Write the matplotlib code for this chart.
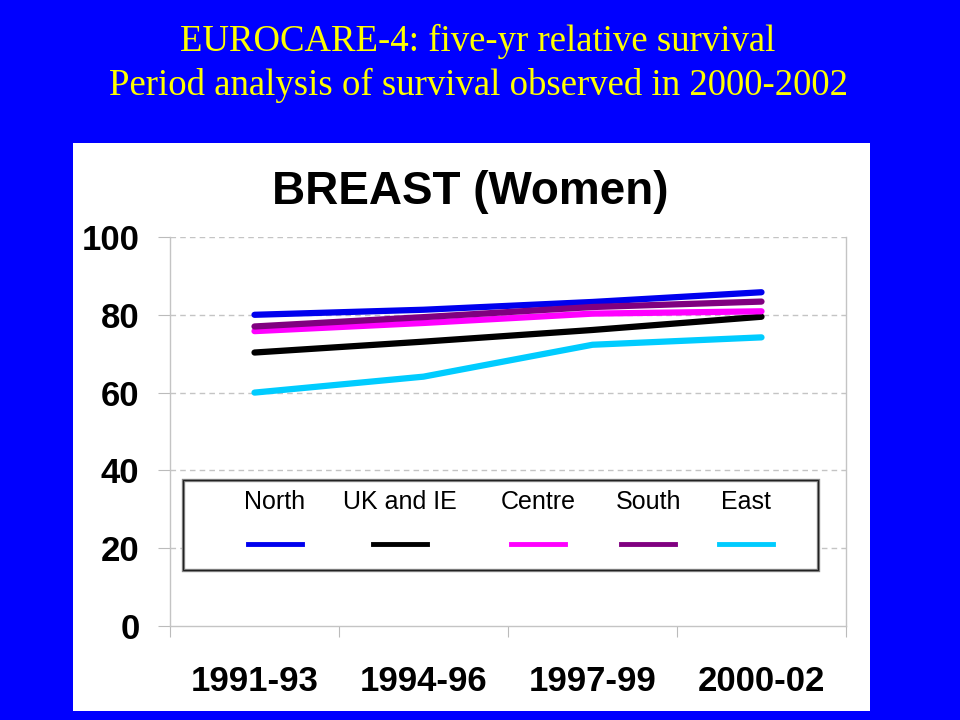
import matplotlib.pyplot as plt
import numpy as np
from matplotlib.lines import Line2D
from matplotlib.patches import Rectangle

periods = ["1991-93", "1994-96", "1997-99", "2000-02"]
regions = ["North", "UK and IE", "Centre", "South", "East"]
colors = ["#0000EE", "#000000", "#FF00FF", "#800080", "#00CCFF"]

north = [80.0, 81.3, 83.3, 85.8]
uk_ie = [70.3, 73.1, 76.1, 79.5]
centre = [75.8, 77.9, 80.3, 80.9]
south = [77.0, 79.4, 82.0, 83.4]
east = [60.0, 64.1, 72.3, 74.2]
series = [north, uk_ie, centre, south, east]

yticks = [0, 20, 40, 60, 80, 100]

fig = plt.figure(figsize=(9.6, 7.2), dpi=100)
fig.patch.set_facecolor("#0000FF")

# white panel behind the chart
panel = fig.add_axes([73 / 960, 9 / 720, 797 / 960, 568 / 720], zorder=-1)
panel.set_facecolor("white")
panel.set_xticks([])
panel.set_yticks([])
for s in panel.spines.values():
    s.set_visible(False)

fig.text(0.498, 0.942, "EUROCARE-4: five-yr relative survival", ha="center", va="center",
         color="#FFFF00", fontsize=26.5, family="Liberation Serif")
fig.text(0.498, 0.882, "Period analysis of survival observed in 2000-2002", ha="center", va="center",
         color="#FFFF00", fontsize=26.5, family="Liberation Serif")

ax = fig.add_axes([170 / 960, 94 / 720, 676 / 960, 389 / 720])
ax.set_facecolor("none")

x = np.arange(len(periods)) + 0.5
for vals, col in zip(series, colors):
    ax.plot(x, vals, color=col, lw=4.5, solid_capstyle="round", zorder=3)

ax.set_xlim(0, len(periods))
ax.set_ylim(0, 100)

ax.set_yticks(yticks)
ax.set_yticklabels([str(v) for v in yticks], fontsize=25, fontweight="bold", family="Liberation Sans")
ax.tick_params(axis="y", length=9, color="#BBBBBB", pad=13)

ax.set_xticks(np.arange(len(periods) + 1))
ax.set_xticklabels([])
ax.set_xticks(x, minor=True)
ax.set_xticklabels(periods, minor=True, fontsize=25, fontweight="bold", family="Liberation Sans")
ax.tick_params(axis="x", which="major", length=8, color="#BBBBBB")
ax.tick_params(axis="x", which="minor", length=0, pad=28)

for v in yticks[1:]:
    ax.axhline(v, color="#C4C4C4", lw=1, ls=(0, (4, 3)), zorder=1)

ax.spines["top"].set_visible(False)
for side in ["left", "bottom", "right"]:
    ax.spines[side].set_color("#C4C4C4")
    ax.spines[side].set_linewidth(1)

fig.text(0.49, 0.733, "BREAST (Women)", ha="center", va="center",
         fontsize=33, fontweight="bold", family="Liberation Sans")

# legend box: labels above line samples
shadow = Rectangle((0.077, 14.4), 3.755, 23.1, facecolor="white", edgecolor="#888888",
                   lw=2.4, zorder=4)
ax.add_patch(shadow)
box = Rectangle((0.077, 14.4), 3.755, 23.1, facecolor="none", edgecolor="#222222",
                lw=0.9, zorder=4)
ax.add_patch(box)
leg_x = [0.62, 1.36, 2.18, 2.83, 3.41]
for name, col, lx in zip(regions, colors, leg_x):
    ax.text(lx, 31.8, name, ha="center", va="center", fontsize=18,
            family="Liberation Sans", zorder=5)
    ax.add_line(Line2D([lx - 0.16, lx + 0.16], [21, 21], color=col, lw=3.5, zorder=5))

fig.savefig("out.png", dpi=100, facecolor=fig.get_facecolor())
